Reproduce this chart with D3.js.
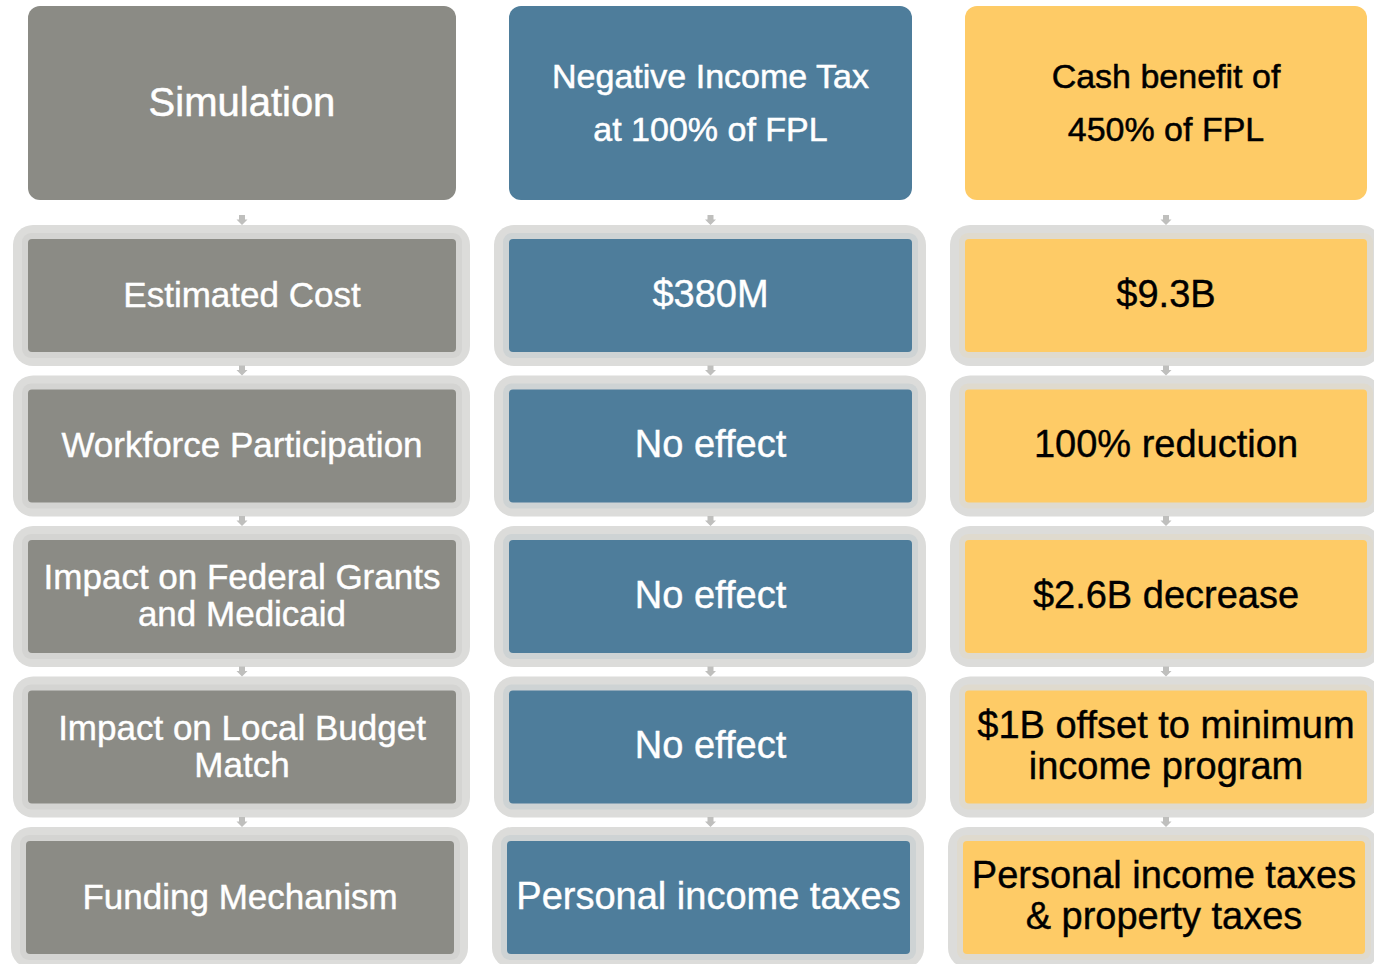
<!DOCTYPE html>
<html>
<head>
<meta charset="utf-8">
<script src="https://cdn.jsdelivr.net/npm/d3@7"></script>
<style>
  body { margin: 0; background: #fff; }
  svg { display: block; }
</style>
</head>
<body>
<svg></svg>
<script>
const width = 1374;
const height = 964;

// data
const columns = ['Simulation', 'Negative Income Tax\nat 100% of FPL', 'Cash benefit of\n450% of FPL'];
const metrics = [
	'Estimated Cost',
	'Workforce Participation',
	'Impact on Federal Grants\nand Medicaid',
	'Impact on Local Budget\nMatch',
	'Funding Mechanism'
];
const nitValues = ['$380M', 'No effect', 'No effect', 'No effect', 'Personal income taxes'];
const cashValues = [
	'$9.3B',
	'100% reduction',
	'$2.6B decrease',
	'$1B offset to minimum\nincome program',
	'Personal income taxes\n& property taxes'
];

// layout
const colLeft = [28, 509, 965];
const colWidth = [428, 403, 402];
const fills = ['#8b8b85', '#4e7d9b', '#fecb66'];
const textFills = ['#fff', '#fff', '#000'];
const ringFill = '#dcdcda';
const arrowFill = '#bfbfbd';

const svg = d3.select('svg')
	.attr('width', width)
	.attr('height', height)
	.style('font-family', '"Liberation Sans", Arial, sans-serif');

const rowScale = d3.scaleBand()
	.domain(d3.range(metrics.length))
	.range([225, 225 + 150.5 * metrics.length - 9.5])
	.paddingInner(9.5 / 150.5);

const cells = [metrics, nitValues, cashValues];

function multiline(selection, lineHeight) {
	selection.each(function(d) {
		const lines = d.split('\n');
		const t = d3.select(this);
		lines.forEach((line, i) => {
			t.append('tspan')
				.attr('x', t.attr('x'))
				.attr('dy', i === 0 ? (-(lines.length - 1) / 2 * lineHeight) + 'px' : lineHeight + 'px')
				.text(line);
		});
	});
}

// headers
const headers = svg.append('g').selectAll('g')
	.data(columns)
	.join('g');

headers.append('rect')
	.attr('x', (d, i) => colLeft[i])
	.attr('y', 6)
	.attr('width', (d, i) => colWidth[i])
	.attr('height', 194)
	.attr('rx', 12)
	.attr('fill', (d, i) => fills[i]);

headers.append('text')
	.attr('x', (d, i) => colLeft[i] + colWidth[i] / 2)
	.attr('y', 102)
	.attr('text-anchor', 'middle')
	.attr('dominant-baseline', 'central')
	.attr('fill', (d, i) => textFills[i])
	.attr('stroke', (d, i) => textFills[i])
	.attr('stroke-width', 0.5)
	.style('font-size', (d, i) => i === 0 ? '40px' : '34px')
	.call(multiline, 53);

// rows
cells.forEach((values, c) => {
	const g = svg.append('g');
	const band = d3.interpolateRgb(ringFill, fills[c])(0.1);
	const rows = g.selectAll('g')
		.data(values)
		.join('g')
		.attr('transform', (d, i) => `translate(${colLeft[c] - (i === values.length - 1 ? 2 : 0)}, ${rowScale(i) + 14})`);

	const w = colWidth[c];
	const h = rowScale.bandwidth() - 28;

	rows.append('rect')
		.attr('x', -15).attr('y', -14)
		.attr('width', w + 29).attr('height', h + 28)
		.attr('rx', 20)
		.attr('fill', ringFill);
	rows.append('rect')
		.attr('x', -6).attr('y', -6)
		.attr('width', w + 12).attr('height', h + 12)
		.attr('rx', 9)
		.attr('fill', band);
	rows.append('rect')
		.attr('width', w).attr('height', h)
		.attr('rx', 4)
		.attr('fill', fills[c]);
	rows.append('text')
		.attr('x', w / 2)
		.attr('y', h / 2 - 2)
		.attr('text-anchor', 'middle')
		.attr('dominant-baseline', 'central')
		.attr('fill', textFills[c])
		.attr('stroke', textFills[c])
		.attr('stroke-width', 0.4)
		.style('font-size', c === 0 ? '35px' : '38px')
		.call(multiline, c === 0 ? 37 : 41);

	// small down arrows above each row
	g.selectAll('path.arrow')
		.data(values)
		.join('path')
		.attr('class', 'arrow')
		.attr('transform', (d, i) => `translate(${colLeft[c] + w / 2}, ${rowScale(i) - 10})`)
		.attr('d', 'M-3,0 L3,0 L3,4.5 L5.5,4.5 L0,10 L-5.5,4.5 L-3,4.5 Z')
		.attr('fill', arrowFill);
});
</script>
</body>
</html>
